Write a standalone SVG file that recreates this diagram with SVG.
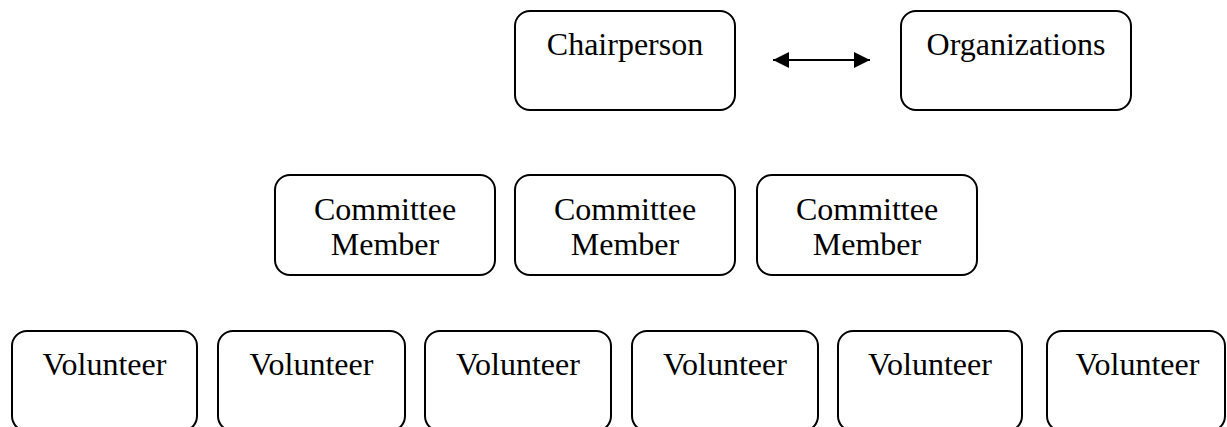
<svg xmlns="http://www.w3.org/2000/svg" width="1227" height="427" viewBox="0 0 1227 427">
<style>
.box{fill:#fff;stroke:#000;stroke-width:2}
.t{font-family:"Liberation Serif","Times New Roman",serif;font-size:32px;fill:#000;text-anchor:middle}
.conn{stroke:#000;stroke-width:2;fill:none}
</style>
<defs>
<marker id="ah" viewBox="0 0 16 16" refX="16" refY="8" markerWidth="16" markerHeight="16" markerUnits="userSpaceOnUse" orient="auto-start-reverse">
<path d="M0,0 L16,8 L0,16 Z" fill="#000"/>
</marker>
</defs>
<rect width="1227" height="427" fill="#fff"/>
<g id="chairperson"><rect class="box" x="515" y="11" width="220" height="99" rx="15"/><text class="t" x="625" y="55">Chairperson</text></g>
<g id="organizations"><rect class="box" x="901" y="11" width="230" height="99" rx="15"/><text class="t" x="1016" y="55">Organizations</text></g>
<g id="committee1"><rect class="box" x="275" y="175" width="220" height="100" rx="15"/><text class="t" x="385" y="220">Committee</text><text class="t" x="385" y="255">Member</text></g>
<g id="committee2"><rect class="box" x="515" y="175" width="220" height="100" rx="15"/><text class="t" x="625" y="220">Committee</text><text class="t" x="625" y="255">Member</text></g>
<g id="committee3"><rect class="box" x="757" y="175" width="220" height="100" rx="15"/><text class="t" x="867" y="220">Committee</text><text class="t" x="867" y="255">Member</text></g>
<g id="volunteer1"><rect class="box" x="12" y="331" width="185" height="100" rx="15"/><text class="t" x="104.5" y="375">Volunteer</text></g>
<g id="volunteer2"><rect class="box" x="218" y="331" width="187" height="100" rx="15"/><text class="t" x="311.5" y="375">Volunteer</text></g>
<g id="volunteer3"><rect class="box" x="425" y="331" width="186" height="100" rx="15"/><text class="t" x="518" y="375">Volunteer</text></g>
<g id="volunteer4"><rect class="box" x="632" y="331" width="186" height="100" rx="15"/><text class="t" x="725" y="375">Volunteer</text></g>
<g id="volunteer5"><rect class="box" x="838" y="331" width="184" height="100" rx="15"/><text class="t" x="930" y="375">Volunteer</text></g>
<g id="volunteer6"><rect class="box" x="1047" y="331" width="178" height="100" rx="15"/><text class="t" x="1137.5" y="375">Volunteer</text></g>
<g id="connectors">
<line class="conn" x1="773" y1="60" x2="870" y2="60" marker-start="url(#ah)" marker-end="url(#ah)"/>
</g>
</svg>
